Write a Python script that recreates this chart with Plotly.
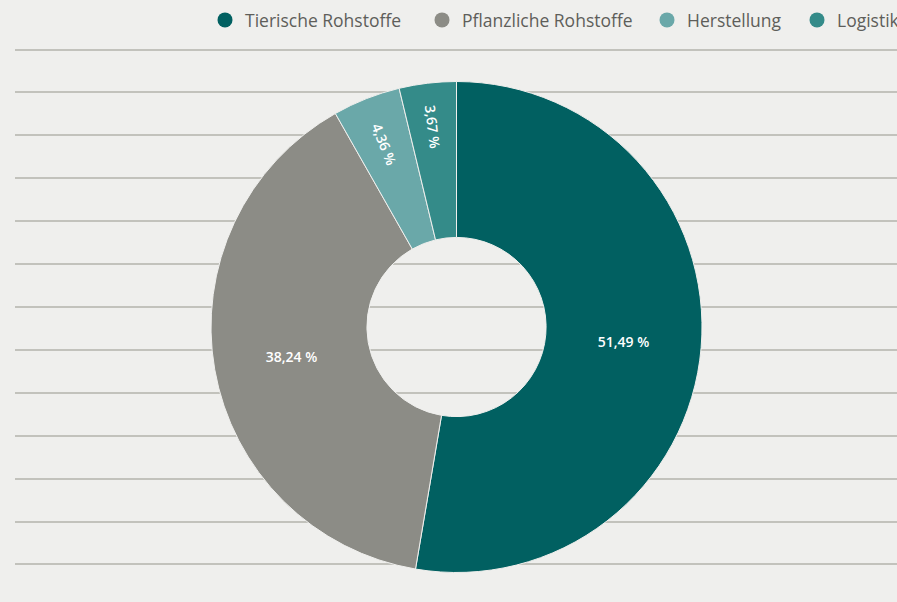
import plotly.graph_objects as go

categories = ["Tierische Rohstoffe", "Pflanzliche Rohstoffe", "Herstellung", "Logistik"]
values = [51.49, 38.24, 4.36, 3.67]
colors = ["#016061", "#8c8c86", "#6aa8a9", "#348b89"]
label_style = ["horizontal", "horizontal", "radial", "radial"]
grid_levels = list(range(0, 13))

BG = "#efefed"
FONT = "Open Sans"
LEGEND_COLOR = "#5e5e5a"

fig = go.Figure()

# empty trace so the cartesian grid (background lines) is drawn
fig.add_trace(go.Scatter(x=[], y=[], showlegend=False, hoverinfo="skip"))

pie_domain = dict(x=[0.23523, 0.78261], y=[0.0490, 0.8646])
text_font = dict(color="white", size=14, family=FONT, weight=600)

# main donut, horizontal labels for the large slices
fig.add_trace(go.Pie(
    labels=categories,
    values=values,
    marker=dict(colors=colors, line=dict(color=BG, width=1)),
    hole=0.365,
    sort=False,
    direction="clockwise",
    rotation=0,
    texttemplate=["%{value:.2f} %" if s == "horizontal" else "" for s in label_style],
    textposition="inside",
    insidetextorientation="horizontal",
    insidetextfont=text_font,
    domain=pie_domain,
    showlegend=False,
    hoverinfo="label+value",
))

# overlay with radial labels for the thin slices
fig.add_trace(go.Pie(
    labels=categories,
    values=values,
    marker=dict(colors=["rgba(0,0,0,0)"] * len(values), line=dict(width=0)),
    hole=0.365,
    sort=False,
    direction="clockwise",
    rotation=0,
    texttemplate=["%{value:.2f} %" if s == "radial" else "" for s in label_style],
    textposition="inside",
    insidetextorientation="radial",
    insidetextfont=text_font,
    domain=pie_domain,
    showlegend=False,
    hoverinfo="skip",
))

# legend entries with round markers, one legend box per entry
legend_ids = ["legend", "legend2", "legend3", "legend4"]
legend_x = [205, 422, 647, 797]  # left edge of each legend box, px
for cat, col, lid in zip(categories, colors, legend_ids):
    fig.add_trace(go.Scatter(
        x=[None], y=[None], mode="markers", name=cat,
        marker=dict(color=col, size=15, symbol="circle"),
        hoverinfo="skip", legend=lid,
    ))

legend_common = dict(
    orientation="h",
    y=(602 - 20) / 602, yanchor="middle",
    font=dict(family=FONT, size=17.5, color=LEGEND_COLOR),
    bgcolor="rgba(0,0,0,0)",
    itemclick=False, itemdoubleclick=False,
    xanchor="left",
)
legend_layout = {lid: dict(legend_common, x=px / 897) for lid, px in zip(legend_ids, legend_x)}

fig.update_layout(
    width=897, height=602,
    margin=dict(l=0, r=0, t=0, b=0, autoexpand=False),
    paper_bgcolor=BG, plot_bgcolor=BG,
    separators=",.",
    font=dict(family=FONT, color=LEGEND_COLOR, size=16),
    showlegend=True,
    xaxis=dict(domain=[15 / 897, 1], range=[0, 1], visible=False, fixedrange=True),
    yaxis=dict(
        domain=[0.02666, 0.95339], range=[-0.5, 12.5],
        tickmode="array", tickvals=grid_levels,
        showticklabels=False, ticks="", showline=False, zeroline=False,
        showgrid=True, gridcolor="#c2c2bc", gridwidth=1.5, fixedrange=True,
    ),
    **legend_layout,
)

fig.write_html(
    "out.html",
    config={"displayModeBar": False},
    post_script="document.body.style.margin='0';document.body.style.overflow='hidden';",
)
